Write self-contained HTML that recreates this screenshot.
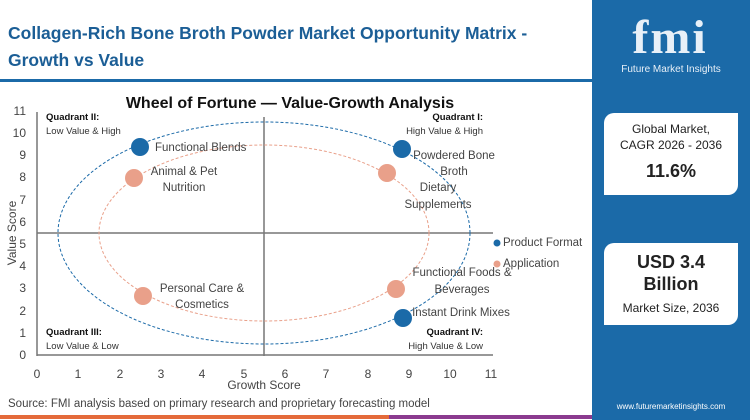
<!DOCTYPE html>
<html><head><meta charset="utf-8"><style>
body{margin:0;width:750px;height:420px;overflow:hidden;background:#fff;font-family:"Liberation Sans",sans-serif;position:relative}
.t{position:absolute;left:8px;top:20px;font-size:17.5px;font-weight:bold;color:#1b5e96;line-height:27px}
.side{position:absolute;left:592px;top:0;width:158px;height:420px;background:#1b6aa8}
.card{position:absolute;left:12px;width:134px;background:#fff;border-radius:10px 0 10px 0;text-align:center;color:#222}
svg{position:absolute;left:0;top:0}
</style></head><body>
<div class="t">Collagen-Rich Bone Broth Powder Market Opportunity Matrix -<br>Growth vs Value</div>
<div style="position:absolute;left:0;top:79px;width:592px;height:3px;background:#1b6aa8"></div>
<div style="position:absolute;left:0;top:415px;width:389px;height:4px;background:#e46a3a"></div>
<div style="position:absolute;left:389px;top:415px;width:203px;height:4px;background:#8b3a8f"></div>
<div class="side">
 <div style="position:absolute;left:28px;top:10px;width:100px;font-size:48px;font-weight:bold;color:#e8f0f8;font-family:'Liberation Serif',serif;text-align:center;letter-spacing:2px">fmi</div>
 <div style="position:absolute;left:0;top:64px;width:158px;text-align:center;font-size:10px;color:#e8f0f8">Future Market Insights</div>
 <div class="card" style="top:113px;height:82px"><div style="font-size:12px;margin-top:8px;line-height:16px">Global Market,<br>CAGR 2026 - 2036</div><div style="font-size:18px;font-weight:bold;margin-top:8px">11.6%</div></div>
 <div class="card" style="top:243px;height:82px"><div style="font-size:18px;font-weight:bold;margin-top:8px;line-height:22px">USD 3.4<br>Billion</div><div style="font-size:12px;margin-top:6px">Market Size, 2036</div></div>
 <div style="position:absolute;left:0;top:402px;width:158px;text-align:center;font-size:8px;color:#fff">www.futuremarketinsights.com</div>
</div>
<svg width="592" height="420" font-family="Liberation Sans, sans-serif">
<text x="290" y="108" font-size="16" font-weight="bold" text-anchor="middle" fill="#111">Wheel of Fortune — Value-Growth Analysis</text>
<g stroke="#777" stroke-width="1.5"><line x1="37" y1="112" x2="37" y2="356"/><line x1="37" y1="355" x2="493" y2="355"/><line x1="264" y1="117" x2="264" y2="356"/><line x1="37" y1="233" x2="493" y2="233"/></g>
<ellipse cx="264" cy="233" rx="206" ry="111" fill="none" stroke="#1b6aa8" stroke-dasharray="3,2"/>
<ellipse cx="264" cy="233" rx="165" ry="88" fill="none" stroke="#e9a08a" stroke-dasharray="3,2"/>
<g font-size="12" fill="#444" text-anchor="middle">
<text x="37" y="378">0</text><text x="78" y="378">1</text><text x="120" y="378">2</text><text x="161" y="378">3</text><text x="202" y="378">4</text><text x="244" y="378">5</text><text x="285" y="378">6</text><text x="326" y="378">7</text><text x="368" y="378">8</text><text x="409" y="378">9</text><text x="450" y="378">10</text><text x="491" y="378">11</text>
<text x="264" y="389">Growth Score</text>
</g>
<g font-size="12" fill="#444" text-anchor="end">
<text x="26" y="359">0</text><text x="26" y="337">1</text><text x="26" y="315">2</text><text x="26" y="292">3</text><text x="26" y="270">4</text><text x="26" y="248">5</text><text x="26" y="226">6</text><text x="26" y="204">7</text><text x="26" y="181">8</text><text x="26" y="159">9</text><text x="26" y="137">10</text><text x="26" y="115">11</text>
</g>
<text transform="translate(16,233) rotate(-90)" font-size="12" fill="#444" text-anchor="middle">Value Score</text>
<g font-size="9.5" fill="#111"><text x="46" y="120" font-weight="bold">Quadrant II:</text><text x="46" y="134" fill="#333">Low Value &amp; High</text>
<text x="46" y="335" font-weight="bold">Quadrant III:</text><text x="46" y="349" fill="#333">Low Value &amp; Low</text>
<text x="483" y="120" font-weight="bold" text-anchor="end">Quadrant I:</text><text x="483" y="134" fill="#333" text-anchor="end">High Value &amp; High</text>
<text x="483" y="335" font-weight="bold" text-anchor="end">Quadrant IV:</text><text x="483" y="349" fill="#333" text-anchor="end">High Value &amp; Low</text></g>
<g fill="#1b6aa8"><circle cx="140" cy="147" r="9"/><circle cx="402" cy="149" r="9"/><circle cx="403" cy="318" r="9"/><circle cx="497" cy="243" r="3.5"/></g>
<g fill="#e9a08a"><circle cx="134" cy="178" r="9"/><circle cx="143" cy="296" r="9"/><circle cx="387" cy="173" r="9"/><circle cx="396" cy="289" r="9"/><circle cx="497" cy="264" r="3.5"/></g>
<g font-size="11.5" fill="#444">
<text x="155" y="151">Functional Blends</text>
<text x="184" y="175" text-anchor="middle">Animal &amp; Pet</text><text x="184" y="191" text-anchor="middle">Nutrition</text>
<text x="202" y="292" text-anchor="middle">Personal Care &amp;</text><text x="202" y="308" text-anchor="middle">Cosmetics</text>
<text x="454" y="159" text-anchor="middle">Powdered Bone</text><text x="454" y="175" text-anchor="middle">Broth</text>
<text x="438" y="191" text-anchor="middle">Dietary</text><text x="438" y="208" text-anchor="middle">Supplements</text>
<text x="462" y="276" text-anchor="middle">Functional Foods &amp;</text><text x="462" y="293" text-anchor="middle">Beverages</text>
<text x="461" y="316" text-anchor="middle">Instant Drink Mixes</text>
<text x="503" y="246">Product Format</text><text x="503" y="267">Application</text>
<text x="8" y="407">Source: FMI analysis based on primary research and proprietary forecasting model</text>
</g>
</svg>
</body></html>
